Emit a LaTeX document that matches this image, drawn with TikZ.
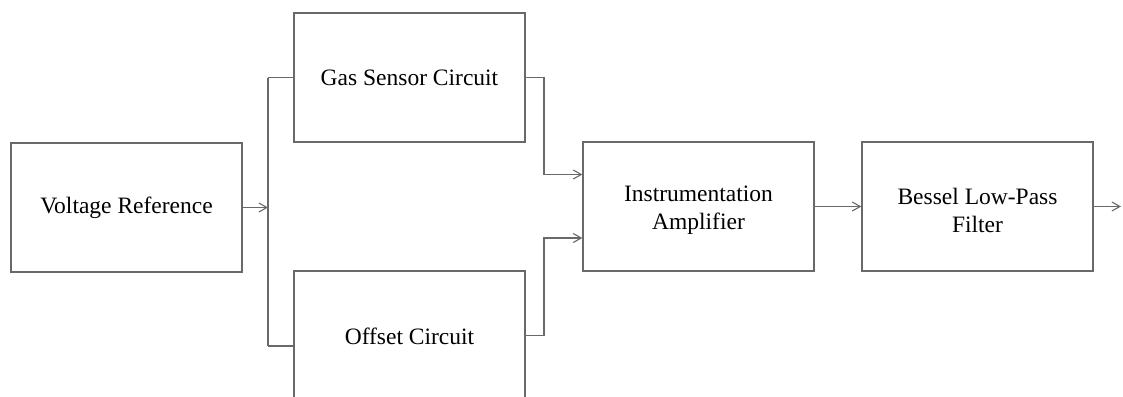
\documentclass[tikz,border=0pt]{standalone}
\usepackage{fontspec}
\setmainfont{Liberation Serif}
\usetikzlibrary{arrows.meta,calc}
\definecolor{linegray}{RGB}{105,105,105}
\tikzset{
  blockbox/.style={draw=linegray, line width=1.3pt, fill=white, minimum width=231pt, minimum height=129pt, inner sep=0pt},
  lbl/.style={inner sep=0pt, align=center, font=\fontsize{23.5}{28}\selectfont},
  conn/.style={draw=linegray, line width=1.2pt},
  arr/.style={conn, -{Straight Barb[length=8pt,width=9pt,line width=1.1pt]}}
}
\begin{document}
\begin{tikzpicture}[x=1pt,y=-1pt]
\clip (0,0) rectangle (1123,396);
\fill[white] (0,0) rectangle (1123,396);
\node[blockbox] (vr) at (126.5,207.5) {};
\node[blockbox] (gas) at (409.5,77.5) {};
\node[blockbox] (off) at (409.5,335.5) {};
\node[blockbox] (ia) at (698.5,206.5) {};
\node[blockbox] (bf) at (977.5,206.5) {};
\node[lbl] (vrt) at ([yshift=-0.5pt]vr.center) {Voltage Reference};
\node[lbl] (gast) at ([yshift=-0.5pt]gas.center) {Gas Sensor Circuit};
\node[lbl] (offt) at ([yshift=-0.5pt]off.center) {Offset Circuit};
\node[lbl] (iat) at ([yshift=-4pt]ia.center) {Instrumentation\\Amplifier};
\node[lbl] (bft) at ([yshift=-4pt]bf.center) {Bessel Low-Pass\\Filter};
\coordinate (j) at (268,207.5);
\coordinate (jt) at (268,77.5);
\coordinate (jb) at (268,346);
\coordinate (gr) at (544,77.5);
\coordinate (orr) at (544,335.5);
\coordinate (out) at (1121,206.5);
\draw[arr] (vr.east) -- (j);
\draw[conn] (jt) -- (jb);
\draw[conn] (jt) -- (jt -| gas.west);
\draw[conn] (jb) -- (jb -| off.west);
\draw[arr] (gas.east) -- (gr) |- ([yshift=32pt]ia.west);
\draw[arr] (off.east) -- (orr) |- ([yshift=-31.5pt]ia.west);
\draw[arr] (ia.east) -- (bf.west);
\draw[arr] (bf.east) -- (out);
\end{tikzpicture}
\end{document}
